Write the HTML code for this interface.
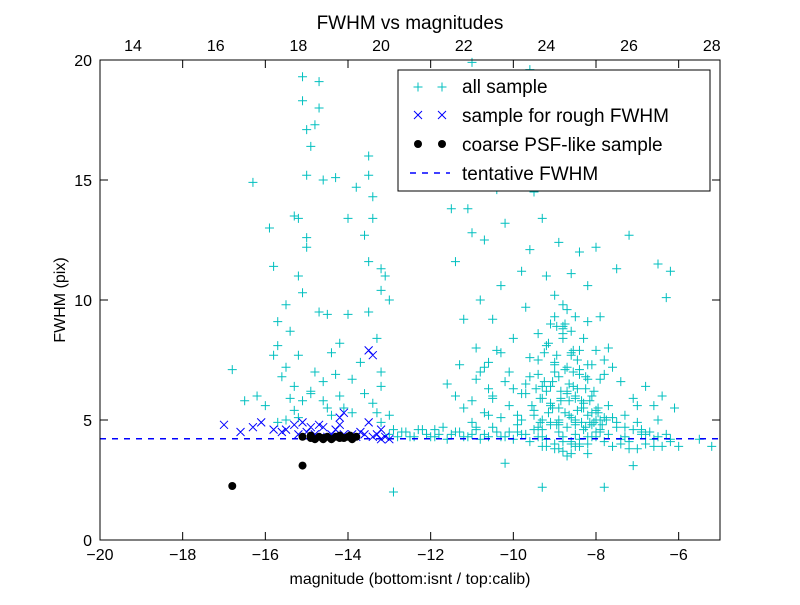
<!DOCTYPE html>
<html><head><meta charset="utf-8"><style>
html,body{margin:0;padding:0;background:#fff;}
svg text{font-family:"Liberation Sans","DejaVu Sans",sans-serif;}
</style></head><body>
<svg id="chart" width="800" height="600" xmlns="http://www.w3.org/2000/svg">
<rect width="800" height="600" fill="#fff"/>
<g id="marks"></g>
<rect x="100" y="60" width="620" height="480" fill="none" stroke="#000" stroke-width="1"/>
<g id="axes"></g>
<text x="410" y="29" font-size="19" text-anchor="middle">FWHM vs magnitudes</text>
<text x="410" y="584" font-size="16" text-anchor="middle">magnitude (bottom:isnt / top:calib)</text>
<text x="65" y="300" font-size="16" text-anchor="middle" transform="rotate(-90 65 300)">FWHM (pix)</text>
<g>
<rect x="398" y="70" width="312" height="121" fill="#fff" stroke="#000" stroke-width="1"/>
<g stroke="#00bfbf" stroke-width="1"><path d="M413.5 87h9M418 82.5v9M437.5 87h9M442 82.5v9"/></g>
<text x="462" y="93" font-size="19">all sample</text>
<g stroke="#0000ff" stroke-width="1"><path d="M414 111l8 8M422 111l-8 8M438 111l8 8M446 111l-8 8"/></g>
<text x="462" y="122" font-size="19">sample for rough FWHM</text>
<circle cx="418" cy="144" r="4" fill="#000"/>
<circle cx="442" cy="144" r="4" fill="#000"/>
<text x="462" y="151" font-size="19">coarse PSF-like sample</text>
<line x1="410" y1="173" x2="450" y2="173" stroke="#0000ff" stroke-width="1.5" stroke-dasharray="6,6"/>
<text x="462" y="180" font-size="19">tentative FWHM</text>
</g>
</svg>
<script>
const xTicks=[-20,-18,-16,-14,-12,-10,-8,-6];
const topTicks=[14,16,18,20,22,24,26,28];
const yTicks=[0,5,10,15,20];
const topOffset=33.2;
const tentativeFWHM=4.22;
const allX=[-16.8,-16.3,-15.9,-15.8,-15.7,-15.7,-15.5,-15.4,-15.3,-15.2,-15.2,-15.1,-15.1,-15.0,-15.0,-15.0,-14.9,-15.0,-15.1,-14.8,-14.7,-14.7,-14.6,-14.7,-14.5,-14.3,-14.2,-14.0,-14.0,-13.8,-13.6,-13.5,-13.5,-13.4,-13.4,-13.5,-13.2,-13.1,-13.2,-13.0,-13.5,-13.3,-13.2,-13.2,
-16.2,-16.0,-15.8,-15.6,-15.5,-15.4,-15.3,-15.2,-15.1,-14.9,-14.8,-14.6,-14.4,-14.3,-14.1,-13.9,-13.7,-13.6,-13.4,-13.3,-15.5,-15.3,-14.9,-14.6,-14.4,-14.2,-16.5,-15.7,-15.2,-14.5,-13.9,-13.2,-13.0,
-13.0,-12.8,-12.6,-12.4,-12.2,-12.0,-11.8,-11.6,-11.4,-11.2,-11.0,-10.8,-10.6,-10.4,-10.2,-10.0,-9.8,-9.6,-9.4,-9.2,-9.0,-8.8,-8.6,-8.4,-8.2,-8.0,-7.8,-7.6,-7.4,-7.2,-7.0,-6.8,-6.6,-6.4,-6.2,-6.0,-5.5,-5.2,-12.9,-11.9,-10.9,-9.9,-8.9,-7.9,-6.9,
-11.4,-11.2,-11.1,-11.0,-10.9,-10.8,-10.7,-10.6,-10.5,-10.4,-10.3,-10.2,-10.1,-10.0,-9.9,-9.8,-9.7,-9.6,-9.5,-9.4,-9.3,-9.2,-9.1,-9.0,-8.9,-8.8,-8.7,-8.6,-8.5,-8.4,-8.3,-8.2,-8.1,-8.0,-7.9,-7.8,-7.7,-7.5,-7.2,-6.5,-6.3,
-11.6,-11.3,-11.0,-10.8,-10.6,-10.4,-10.2,-10.0,-9.8,-9.6,-9.4,-9.2,-9.0,-8.8,-8.6,-8.4,-8.2,-8.0,-7.8,-7.6,-7.4,-7.1,-6.8,-6.6,-6.4,-6.1,
-10.7,-10.5,-10.3,-10.1,-9.9,-9.7,-9.5,-9.3,-9.1,-8.9,-8.7,-8.5,-8.3,-8.1,-7.9,-7.7,-7.5,-7.3,-7.0,
-9.3,-9.2,-9.1,-9.0,-8.95,-8.9,-8.85,-8.8,-8.75,-8.7,-8.65,-8.6,-8.55,-8.5,-8.45,-8.4,-8.35,-8.3,-8.25,-8.2,-8.1,-8.0,-9.4,-9.35,-9.25,-9.15,-9.05,-8.95,-8.85,-8.75,-8.65,-8.55,-8.45,-8.35,-8.25,-8.15,-8.05,-7.95,-7.85,-7.75,
-9.2,-9.0,-8.8,-8.6,-8.4,-8.2,-9.1,-8.9,-8.7,-8.5,-8.3,-8.7,-8.5,-8.9,-8.6,-8.8,-8.4,-9.3,-8.2,-8.0,
-12.9,-10.2,-9.3,-7.8,-7.1,-11.0,-10.0,-9.6,-9.9,-8.7,-7.5,-6.9,-6.2,-10.8,-11.5,-12.3,-10.4];
const allY=[7.1,14.9,13.0,11.4,9.1,8.1,9.8,8.7,13.5,13.4,11.0,19.3,18.3,17.1,12.6,12.2,16.4,15.2,10.3,17.3,19.1,18.0,15.0,9.5,9.4,15.1,8.2,13.4,9.4,14.7,12.7,16.0,15.2,14.3,13.4,11.6,11.3,11.0,10.4,10.0,9.5,8.4,7.0,6.4,
6.0,5.6,7.7,6.8,7.2,5.9,6.4,7.7,5.8,6.1,7.0,6.6,7.8,6.9,5.5,6.7,7.4,6.1,5.7,5.3,5.0,5.4,6.2,5.8,5.2,6.0,5.8,4.9,5.1,5.5,5.3,4.9,5.2,
4.4,4.3,4.5,4.3,4.6,4.3,4.4,4.2,4.5,4.3,4.4,4.2,4.3,4.5,4.3,4.2,4.4,4.1,4.3,4.2,4.0,4.3,4.1,4.2,4.0,4.3,4.1,3.9,4.2,4.1,3.8,4.0,4.2,3.9,4.1,3.9,4.2,3.9,4.6,4.6,4.7,4.5,4.8,4.6,4.5,
11.6,9.2,13.8,12.8,8.0,10.0,12.5,7.4,9.2,14.6,10.6,13.2,7.0,18.1,15.3,11.2,9.7,12.1,14.5,8.6,13.4,11.0,9.0,10.2,12.4,8.8,9.6,11.1,9.3,12.0,8.4,10.6,7.3,12.2,9.3,7.5,8.0,11.3,12.7,11.5,10.1,
6.5,7.3,5.8,7.0,6.3,7.9,6.6,8.4,6.1,7.6,6.9,8.1,7.3,8.6,7.8,7.1,6.7,7.9,6.9,7.2,6.6,5.9,6.4,5.6,6.0,5.5,
5.3,5.9,5.1,5.6,5.2,6.1,5.4,6.4,5.7,6.8,6.2,5.9,5.5,5.3,5.0,5.6,4.9,5.2,4.9,
5.0,6.2,5.6,7.4,4.8,6.8,5.8,8.9,5.3,7.2,6.5,5.1,7.9,6.0,5.4,6.9,4.9,5.7,6.3,5.2,6.0,5.0,4.7,5.9,6.6,8.2,5.5,7.7,6.2,9.0,5.8,7.0,6.3,5.5,4.7,5.8,4.9,5.3,4.8,5.0,
3.9,3.8,3.7,4.0,3.9,3.6,4.8,4.9,4.7,4.8,4.6,3.5,3.9,3.8,3.6,4.1,4.0,3.9,4.3,4.5,
2.0,3.2,2.2,2.2,3.1,19.9,18.9,19.6,16.3,16.6,17.0,15.6,11.2,14.8,13.8,16.8,17.3];
const allX2=[-12.7,-12.5,-12.3,-12.1,-11.9,-11.7,-11.5,-11.3,-11.1,-10.9,-10.7,-10.5,-10.3,-10.1,-9.9,-9.7,-9.5,-9.3,-9.1,-8.9,-8.7,-8.5,-8.3,-8.1,-7.9,-7.7,-7.5,-7.3,-7.1,-6.9,-6.7,-6.5,-6.3,
-9.6,-9.5,-9.4,-9.3,-9.2,-9.1,-9.0,-8.9,-8.8,-8.7,-8.6,-8.5,-8.4,-8.3,-8.2,-8.1,-8.0,-7.9,-7.8,-9.55,-9.45,-9.35,-9.25,-9.15,-9.05,-8.95,-8.85,-8.75,-8.65,-8.55,-8.45,-8.35,-8.25,-8.15,-8.05,-7.95,-9.3,-9.1,-8.9,-8.7,-8.5,-8.3,-8.1,-9.0,-8.8,-8.6,-8.4,-8.2,
-11.2,-10.9,-10.6,-10.3,-10.0,-9.8,-11.4,-10.7,-10.1,-9.7,-11.0,-10.5,
-7.6,-7.3,-7.0,-6.8,-6.5,-6.2,-7.4,-6.9,-6.6,-7.2];
const allY2=[4.5,4.3,4.6,4.4,4.3,4.7,4.4,4.5,4.3,4.6,4.4,4.7,4.3,4.5,4.8,4.4,4.6,4.3,4.9,4.5,4.7,4.4,4.6,4.3,4.5,4.4,4.7,4.3,4.6,4.4,4.5,4.3,4.4,
6.8,5.2,7.5,5.9,8.1,6.4,7.0,5.5,8.4,6.1,7.7,5.0,6.9,5.7,7.3,6.0,5.4,6.7,5.1,5.6,6.3,4.9,7.8,5.3,6.6,8.9,5.9,7.1,5.2,6.4,7.5,5.8,6.8,4.9,6.2,5.5,4.6,4.8,5.0,4.7,4.9,4.6,4.8,9.3,9.8,8.7,7.9,9.1,
5.5,6.7,5.2,7.8,6.3,5.0,6.0,7.2,5.6,6.5,4.9,6.0,
5.1,4.7,5.6,4.4,5.0,4.2,4.0,4.6,3.9,3.8];
const roughX=[-17.0,-16.6,-16.1,-15.8,-15.6,-15.3,-15.1,-15.0,-14.8,-14.6,-14.5,-14.3,-14.2,-14.1,-13.9,-13.7,-13.5,-13.4,-13.3,-13.2,-13.1,-13.0,-13.5,-13.4,-14.1,-14.2,-15.2,-14.9,-14.4,-13.8,-13.6,-13.2,-16.3,-15.5,-14.7];
const roughY=[4.8,4.5,4.9,4.6,4.5,4.8,4.9,4.5,4.4,4.7,4.3,4.6,5.1,5.3,4.4,4.5,4.9,4.3,4.4,4.2,4.3,4.2,7.9,7.7,4.4,4.8,4.4,4.7,4.4,4.3,4.4,4.6,4.7,4.6,4.8];
const psfX=[-16.8,-15.1,-15.1,-14.9,-14.8,-14.7,-14.6,-14.5,-14.4,-14.3,-14.2,-14.1,-14.0,-13.9,-13.8,-14.9,-14.6,-14.2,-13.95];
const psfY=[2.25,3.1,4.3,4.25,4.2,4.3,4.25,4.3,4.2,4.3,4.35,4.25,4.3,4.2,4.3,4.35,4.2,4.25,4.35];

const L=100,R=720,T=60,B=540;
const xs=v=>L+(v+20)/15*(R-L);
const ys=v=>B-v/20*(B-T);
const NS="http://www.w3.org/2000/svg";
const marks=document.getElementById('marks'), axes=document.getElementById('axes');
function mk(tag,attrs,parent){const e=document.createElementNS(NS,tag);for(const k in attrs)e.setAttribute(k,attrs[k]);parent.appendChild(e);return e;}

xTicks.forEach(v=>{const x=xs(v);
 const t=mk('path',{d:`M${x} ${B}v-8M${x} ${T}v8`,stroke:'#000'},axes);
 
 
 const lb=mk('text',{x:x,y:B+20,'font-size':16,'text-anchor':'middle'},axes);
 lb.textContent=(v<0?'\u2212'+(-v):v);
 
 });
topTicks.forEach(v=>{const x=xs(v-topOffset);
 const lb=mk('text',{x:x,y:T-9,'font-size':16,'text-anchor':'middle'},axes);
 lb.textContent=v;
 
 });
yTicks.forEach(v=>{const y=ys(v);
 const t=mk('path',{d:`M${L} ${y}h8M${R} ${y}h-8`,stroke:'#000'},axes);
 
 
 const lb=mk('text',{x:L-8,y:y+6,'font-size':16,'text-anchor':'end'},axes);
 lb.textContent=v;
 
 });

let d='';
const plusX=allX.concat(allX2), plusY=allY.concat(allY2);
plusX.forEach((v,i)=>{const x=xs(v),y=ys(plusY[i]);d+=`M${x-4.5} ${y}h9M${x} ${y-4.5}v9`;});
const pa=mk('path',{d:d,stroke:'#00bfbf','stroke-width':1,fill:'none'},marks);


d='';
roughX.forEach((v,i)=>{const x=xs(v),y=ys(roughY[i]);d+=`M${x-4} ${y-4}l8 8M${x+4} ${y-4}l-8 8`;});
const pr=mk('path',{d:d,stroke:'#0000ff','stroke-width':1,fill:'none'},marks);


const tl=mk('line',{x1:L,x2:R,y1:ys(tentativeFWHM),y2:ys(tentativeFWHM),stroke:'#0000ff','stroke-width':1.5,'stroke-dasharray':'6,6'},marks);


psfX.forEach((v,i)=>{const c=mk('circle',{cx:xs(v),cy:ys(psfY[i]),r:4,fill:'#000'},marks);
 
 });
</script>
</body></html>
